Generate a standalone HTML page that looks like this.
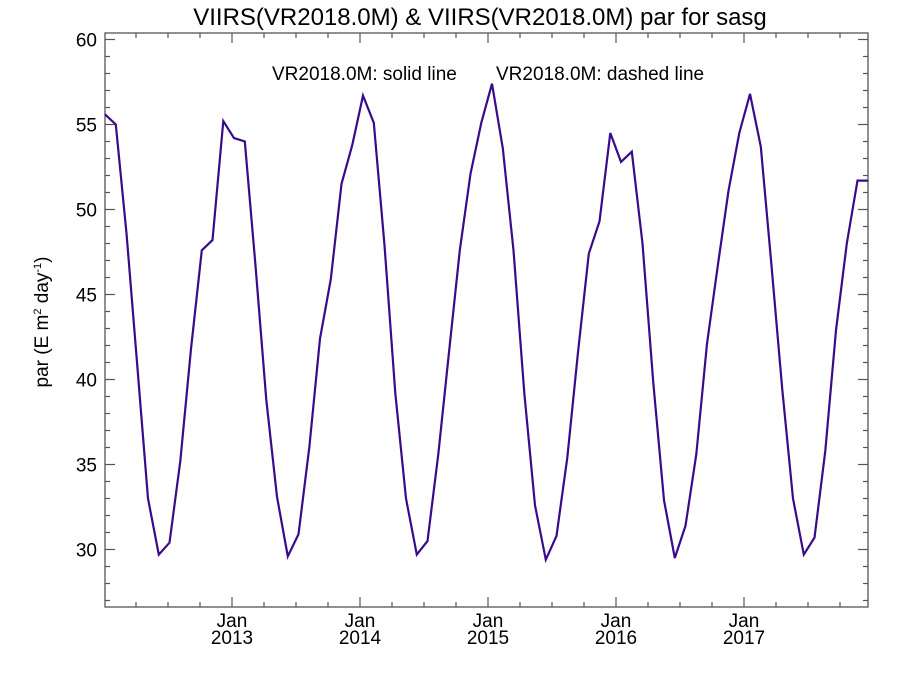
<!DOCTYPE html>
<html><head><meta charset="utf-8"><style>
body{margin:0;background:#fff;}
svg text{font-family:"Liberation Sans",sans-serif;fill:#000;}
</style></head><body>
<svg id="chart" width="900" height="675" xmlns="http://www.w3.org/2000/svg">
<text x="480" y="25" font-size="24" text-anchor="middle">VIIRS(VR2018.0M) &amp; VIIRS(VR2018.0M)  par for sasg</text>
<text x="272" y="80" font-size="19">VR2018.0M: solid line</text>
<text x="496" y="80" font-size="19">VR2018.0M: dashed line</text>
<text transform="translate(48,322) rotate(-90)" font-size="19" text-anchor="middle">par (E m<tspan font-size="11" dy="-7">2</tspan><tspan dy="7"> day</tspan><tspan font-size="11" dy="-7">-1</tspan><tspan dy="7">)</tspan></text>
<g id="axes"></g>
<g id="series"></g>
</svg>
<script>
const values = [55.6,55.0,48.6,40.8,33.0,29.7,30.4,35.2,41.8,47.6,48.2,55.2,
54.2,54.0,46.7,38.8,33.1,29.6,30.9,36.0,42.4,45.9,51.5,53.8,
56.7,55.1,47.9,39.2,33.0,29.7,30.5,35.6,41.6,47.6,52.1,55.1,
57.4,53.6,47.6,39.2,32.6,29.4,30.8,35.4,41.6,47.4,49.3,54.5,
52.8,53.4,48.0,39.8,32.9,29.5,31.4,35.6,42.1,46.7,51.1,54.5,
56.8,53.7,46.7,39.4,33.0,29.7,30.7,35.8,42.9,48.0,51.7,51.7];
const yTicks = [30,35,40,45,50,55,60];
const xTickYears = [2013,2014,2015,2016,2017];
const L=105,R=868,T=33,B=607;
function y(v){return 549.5-(v-30)*17.0;}
function xMonth(m){return 104+m*(128/12);}
function xPoint(i){return 105+i*10.75;}
const NS="http://www.w3.org/2000/svg";
const axes=document.getElementById('axes');
function mk(tag,attrs,parent){const e=document.createElementNS(NS,tag);for(const k in attrs)e.setAttribute(k,attrs[k]);parent.appendChild(e);return e;}
const frame=mk('rect',{x:L,y:T,width:R-L,height:B-T,fill:'none',stroke:'#555','stroke-width':1.3},axes);


for(let v=27;v<=60;v++){
  const major=v%5===0, len=major?10:5;
  const t1=mk('line',{x1:L,x2:L+len,y1:y(v),y2:y(v),stroke:'#555','stroke-width':1.2},axes);
  
  
  const t2=mk('line',{x1:R,x2:R-len,y1:y(v),y2:y(v),stroke:'#555','stroke-width':1.2},axes);
  
  
}
yTicks.forEach(v=>{
  const t=mk('text',{x:L-8,y:y(v)+7,'font-size':19,'text-anchor':'end'},axes);
  t.textContent=v;
  
  
});
for(let m=3;m<72;m+=3){
  const major=m%12===0, len=major?10:5;
  const x=xMonth(m);
  const a=mk('line',{x1:x,x2:x,y1:B,y2:B-len,stroke:'#555','stroke-width':1.2},axes);
  
  
  const b=mk('line',{x1:x,x2:x,y1:T,y2:T+len,stroke:'#555','stroke-width':1.2},axes);
  
  
}
xTickYears.forEach(yr=>{
  const x=xMonth((yr-2012)*12);
  const t=mk('text',{x:x,y:627,'font-size':19,'text-anchor':'middle'},axes);
  t.textContent='Jan';
  
  
  const t2=mk('text',{x:x,y:644,'font-size':19,'text-anchor':'middle'},axes);
  t2.textContent=yr;
  
  
});
const pts=values.map((v,i)=>xPoint(i).toFixed(1)+','+y(v).toFixed(1)).join(' ');
const line=mk('polyline',{points:pts,fill:'none',stroke:'#3a0a8c','stroke-width':2.2,'stroke-linejoin':'miter'},document.getElementById('series'));


</script>
</body></html>
